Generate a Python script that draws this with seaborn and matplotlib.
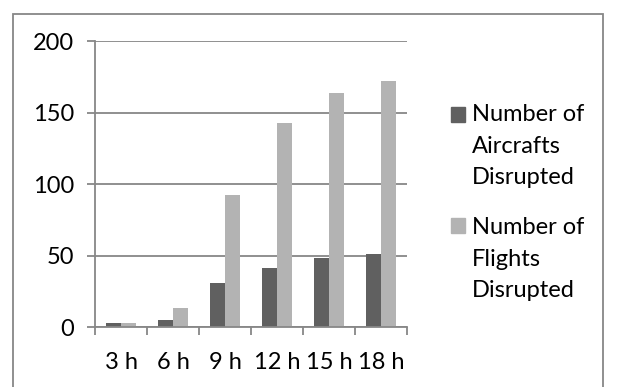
import matplotlib
matplotlib.use("Agg")
import matplotlib.pyplot as plt
from matplotlib.patches import Rectangle
import seaborn as sns
import pandas as pd

# Disruption counts by delay duration
durations = ["3 h", "6 h", "9 h", "12 h", "15 h", "18 h"]
aircrafts_disrupted = [3, 5, 31, 41, 48, 51]
flights_disrupted = [3, 13, 92, 143, 164, 172]
series_names = ["Number of\nAircrafts\nDisrupted", "Number of\nFlights\nDisrupted"]
y_ticks = [0, 50, 100, 150, 200]

colors = ["#606060", "#b3b3b3"]
grid_color = "#878787"

df = pd.DataFrame({
    "duration": durations * 2,
    "count": aircrafts_disrupted + flights_disrupted,
    "series": [series_names[0]] * len(durations) + [series_names[1]] * len(durations),
})

sns.set_theme(style="white")
plt.rcParams["font.family"] = ["Lato", "DejaVu Sans"]

fig = plt.figure(figsize=(6.17, 3.87), dpi=100)
ax = fig.add_axes([0.154, 0.155, 0.506, 0.739])

sns.barplot(data=df, x="duration", y="count", hue="series", order=durations,
            hue_order=series_names, palette=colors, width=0.57, gap=0,
            saturation=1, ax=ax, legend=False, edgecolor="none")

ax.set_ylim(0, 200)
ax.set_xlim(-0.5, len(durations) - 0.5)
ax.set_yticks(y_ticks)
ax.set_xlabel("")
ax.set_ylabel("")
ax.yaxis.grid(True, color=grid_color, linewidth=1.3)
ax.set_axisbelow(True)

for side in ["top", "right"]:
    ax.spines[side].set_visible(False)
for side in ["left", "bottom"]:
    ax.spines[side].set_color(grid_color)
    ax.spines[side].set_linewidth(1.3)

ax.tick_params(axis="y", which="major", length=6, width=1.3, color=grid_color,
               direction="out", left=True, labelsize=17, pad=9, labelcolor="black")
# category boundaries carry the tick marks, centres carry the labels
ax.set_xticks([i + 0.5 for i in range(-1, len(durations))], minor=True)
ax.tick_params(axis="x", which="minor", length=6, width=1.3, color=grid_color,
               direction="out", bottom=True)
ax.tick_params(axis="x", which="major", length=0, labelsize=17, pad=18,
               labelcolor="black")

# legend: square swatch next to the first line of each label
swatch_bottoms = [0.685, 0.398]
text_tops = [0.731, 0.439]
for name, color, yb, yt in zip(series_names, colors, swatch_bottoms, text_tops):
    fig.patches.append(Rectangle((0.731, yb), 0.023, 0.039,
                                 transform=fig.transFigure, color=color))
    fig.text(0.765, yt, name, fontsize=17, va="top", ha="left",
             linespacing=1.62, color="black")

# chart-area border
fig.patches.append(Rectangle((0.021, -0.1), 0.956, 1.065, transform=fig.transFigure,
                             fill=False, edgecolor=grid_color, linewidth=1.3))

fig.savefig("out.png", dpi=100)
